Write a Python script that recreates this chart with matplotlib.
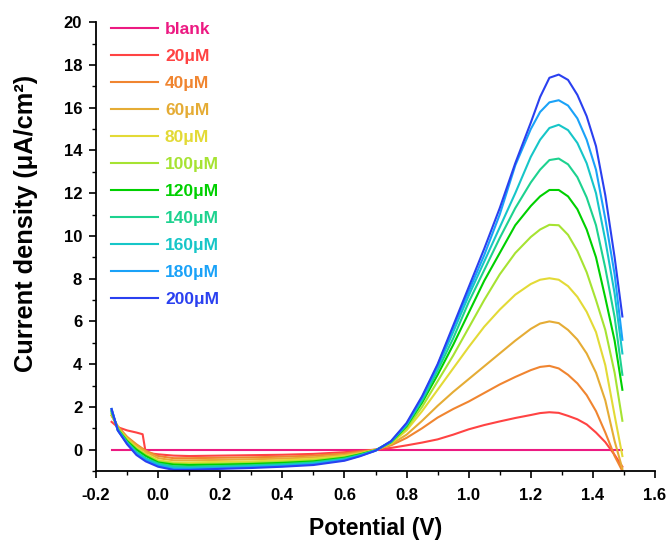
import numpy as np
import matplotlib
matplotlib.use("Agg")
import matplotlib.pyplot as plt
from matplotlib.ticker import MultipleLocator, FormatStrFormatter

plt.rcParams["font.family"] = ["Liberation Sans", "DejaVu Sans"]
plt.rcParams["font.weight"] = "bold"

# potential grid (V) shared by all scans
potential = [-0.15, -0.13, -0.10, -0.07, -0.05, -0.04, 0.0, 0.05, 0.1, 0.2, 0.3, 0.4,
             0.5, 0.6, 0.65, 0.7, 0.75, 0.8, 0.85, 0.9, 0.95, 1.0, 1.05, 1.1, 1.15,
             1.2, 1.23, 1.26, 1.29, 1.32, 1.35, 1.38, 1.41, 1.44, 1.47, 1.495]

labels = ["blank", "20μM", "40μM", "60μM", "80μM", "100μM",
          "120μM", "140μM", "160μM", "180μM", "200μM"]
colors = ["#EC1A82", "#FF4343", "#F08530", "#E5AC35", "#E3DA36", "#A6E332",
          "#00D000", "#1DD28F", "#16C6C8", "#1AA2F8", "#2A40F0"]

blank = [0.0] * len(potential)
c20 = [1.3, 1.05, 0.9, 0.8, 0.72, -0.15, -0.22, -0.28, -0.3, -0.28, -0.26, -0.24,
       -0.2, -0.12, -0.06, 0.0, 0.08, 0.2, 0.33, 0.48, 0.7, 0.95, 1.15, 1.32, 1.48,
       1.62, 1.71, 1.75, 1.72, 1.58, 1.42, 1.18, 0.8, 0.35, -0.25, -0.8]
c40 = [1.6, 1.1, 0.6, 0.25, 0.05, -0.05, -0.3, -0.4, -0.4, -0.38, -0.36, -0.33,
       -0.28, -0.18, -0.1, 0.0, 0.2, 0.55, 1.0, 1.5, 1.9, 2.25, 2.65, 3.05, 3.4,
       3.72, 3.87, 3.92, 3.8, 3.5, 3.1, 2.55, 1.8, 0.8, -0.3, -1.0]
c60 = [1.6, 1.05, 0.55, 0.2, 0.0, -0.1, -0.4, -0.5, -0.5, -0.48, -0.45, -0.42,
       -0.36, -0.25, -0.14, -0.01, 0.25, 0.7, 1.35, 2.05, 2.7, 3.3, 3.9, 4.5, 5.1,
       5.65, 5.9, 6.0, 5.92, 5.6, 5.15, 4.5, 3.6, 2.3, 0.4, -0.9]
c80 = [1.7, 1.0, 0.5, 0.1, -0.1, -0.2, -0.5, -0.6, -0.6, -0.57, -0.55, -0.5,
       -0.43, -0.3, -0.18, -0.02, 0.3, 0.9, 1.8, 2.8, 3.8, 4.8, 5.75, 6.55, 7.25,
       7.75, 7.95, 8.02, 7.95, 7.65, 7.15, 6.45, 5.5, 3.95, 1.6, -0.3]
c100 = [1.7, 1.0, 0.45, 0.05, -0.15, -0.25, -0.55, -0.65, -0.68, -0.65, -0.62, -0.57,
        -0.5, -0.35, -0.2, -0.03, 0.32, 1.0, 2.0, 3.2, 4.4, 5.7, 7.0, 8.2, 9.2,
        9.95, 10.3, 10.52, 10.5, 10.05, 9.3, 8.3, 7.0, 5.6, 3.6, 1.35]
c120 = [1.8, 0.95, 0.4, 0.0, -0.2, -0.3, -0.6, -0.7, -0.72, -0.7, -0.67, -0.62,
        -0.55, -0.38, -0.22, -0.03, 0.35, 1.1, 2.2, 3.5, 4.9, 6.4, 7.9, 9.2, 10.5,
        11.4, 11.85, 12.15, 12.15, 11.85, 11.25, 10.3, 9.0, 7.1, 5.1, 2.8]
c140 = [1.8, 0.95, 0.35, -0.1, -0.3, -0.4, -0.65, -0.78, -0.8, -0.77, -0.73, -0.68,
        -0.6, -0.42, -0.25, -0.04, 0.37, 1.15, 2.3, 3.7, 5.2, 6.9, 8.4, 9.9, 11.3,
        12.5, 13.1, 13.55, 13.62, 13.35, 12.75, 11.8, 10.5, 8.5, 6.2, 3.5]
c160 = [1.9, 0.9, 0.3, -0.15, -0.35, -0.45, -0.7, -0.85, -0.86, -0.83, -0.78, -0.73,
        -0.64, -0.46, -0.27, -0.04, 0.38, 1.18, 2.4, 3.85, 5.5, 7.2, 8.8, 10.4, 12.0,
        13.7, 14.5, 15.05, 15.2, 14.95, 14.35, 13.4, 12.0, 9.8, 7.3, 4.5]
c180 = [1.9, 0.9, 0.3, -0.2, -0.4, -0.5, -0.75, -0.9, -0.9, -0.87, -0.82, -0.77,
        -0.68, -0.49, -0.29, -0.05, 0.39, 1.2, 2.45, 3.95, 5.7, 7.4, 9.1, 11.0, 13.3,
        15.0, 15.8, 16.25, 16.35, 16.1, 15.5, 14.5, 13.1, 10.8, 8.2, 5.14]
c200 = [1.9, 0.9, 0.25, -0.25, -0.45, -0.55, -0.8, -0.95, -0.95, -0.9, -0.86, -0.8,
        -0.72, -0.52, -0.31, -0.05, 0.4, 1.25, 2.5, 4.0, 5.8, 7.6, 9.4, 11.3, 13.4,
        15.3, 16.5, 17.4, 17.55, 17.3, 16.6, 15.6, 14.2, 11.9, 9.0, 6.23]

series = [blank, c20, c40, c60, c80, c100, c120, c140, c160, c180, c200]

fig = plt.figure(figsize=(6.67, 5.42), dpi=100)
ax = fig.add_axes([0.144, 0.131, 0.838, 0.828])

for y, lab, col in zip(series, labels, colors):
    ax.plot(potential, y, color=col, lw=1.5, label=lab)

ax.set_xlim(-0.2, 1.6)
ax.set_ylim(-1, 20)
ax.xaxis.set_major_locator(MultipleLocator(0.2))
ax.xaxis.set_minor_locator(MultipleLocator(0.1))
ax.yaxis.set_major_locator(MultipleLocator(2))
ax.yaxis.set_minor_locator(MultipleLocator(1))
ax.xaxis.set_major_formatter(FormatStrFormatter("%.1f"))

for s in ["top", "right"]:
    ax.spines[s].set_visible(False)
for s in ["left", "bottom"]:
    ax.spines[s].set_linewidth(1.3)
ax.tick_params(which="major", direction="out", length=5, width=1.2, labelsize=12)
ax.tick_params(which="minor", direction="out", length=3, width=1.0)
ax.tick_params(axis="x", which="major", pad=7)
ax.tick_params(axis="y", which="major", pad=5)
for t in ax.get_xticklabels() + ax.get_yticklabels():
    t.set_fontweight("bold")

ax.set_xlabel("Potential (V)", fontsize=16.5, fontweight="bold", labelpad=10)
ax.set_ylabel("Current density (μA/cm²)", fontsize=18.3, fontweight="bold")
ax.yaxis.set_label_coords(-0.104, 0.552)

leg = ax.legend(loc="upper left", bbox_to_anchor=(0.027, 1.0), frameon=False,
                fontsize=12.5, handlelength=2.7, handletextpad=0.4, labelspacing=0.68,
                borderaxespad=0.0, borderpad=0.0)
for txt, col in zip(leg.get_texts(), colors):
    txt.set_color(col)
    txt.set_fontweight("bold")

fig.savefig("out.png", dpi=100)
